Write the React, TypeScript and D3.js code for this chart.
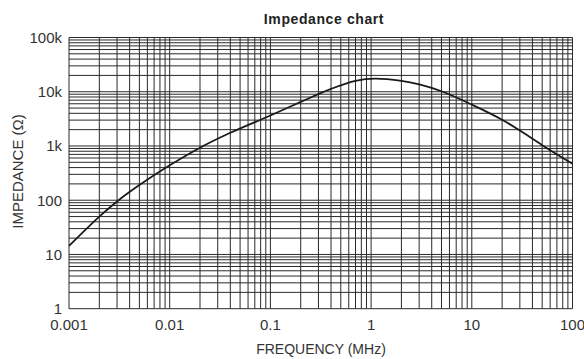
import React from 'react';
import * as d3 from 'd3';

// frequency in MHz, impedance in ohms
const freqs = [0.001, 0.002, 0.003, 0.005, 0.01, 0.02, 0.04, 0.1, 0.2, 0.4, 0.7, 1.1, 2, 3, 5, 10, 20, 30, 50, 100];
const impedance = [14.4, 50, 95, 190, 440, 930, 1750, 3650, 6500, 11300, 15900, 17400, 15800, 13600, 10200, 5800, 3050, 1920, 1035, 470];

const xTicks = [0.001, 0.01, 0.1, 1, 10, 100];
const xTickLabels = ['0.001', '0.01', '0.1', '1', '10', '100'];
const yTicks = [1, 10, 100, 1000, 10000, 100000];
const yTickLabels = ['1', '10', '100', '1k', '10k', '100k'];

const W = 584;
const H = 359;
const margin = {top: 37.5, right: 11.5, bottom: 50.3, left: 69};
const font = '"Liberation Sans", Arial, Helvetica, sans-serif';

// minor grid values 1..9 for every decade between lo and hi
function gridValues(lo: number, hi: number): number[] {
  const out: number[] = [];
  for (let d = lo; d < hi; d *= 10) {
    for (let k = 1; k < 10; k++) out.push(d * k);
  }
  out.push(hi);
  return out;
}

export default function App() {
  const x = d3.scaleLog().domain([0.001, 100]).range([margin.left, W - margin.right]);
  const y = d3.scaleLog().domain([1, 100000]).range([H - margin.bottom, margin.top]);

  const line = d3
    .line<number>()
    .x((_, i) => x(freqs[i]))
    .y(d => y(d))
    .curve(d3.curveCatmullRom.alpha(0.5));

  const x0 = x.range()[0];
  const x1 = x.range()[1];
  const y0 = y.range()[0];
  const y1 = y.range()[1];

  return (
    <svg width={W} height={H} style={{position: 'absolute', left: 0, top: 0, background: '#fff'}}>
      <text x={324} y={24} textAnchor="middle" fontFamily={font} fontWeight="bold" fontSize={14} letterSpacing={0.6} fill="#222">
        Impedance chart
      </text>

      <g stroke="#2a2a2a" strokeWidth={1}>
        {gridValues(0.001, 100).map((v, i) => (
          <line key={'x' + i} x1={x(v)} x2={x(v)} y1={y1} y2={y0} />
        ))}
        {gridValues(1, 100000).map((v, i) => (
          <line key={'y' + i} x1={x0} x2={x1} y1={y(v)} y2={y(v)} />
        ))}
      </g>

      <path d={line(impedance) || ''} fill="none" stroke="#1a1a1a" strokeWidth={1.8} />

      <g fontFamily={font} fontSize={15} fill="#333">
        {yTicks.map((v, i) => (
          <text key={'yt' + i} x={x0 - 7} y={y(v)} dy="0.36em" textAnchor="end">
            {yTickLabels[i]}
          </text>
        ))}
        {xTicks.map((v, i) => (
          <text key={'xt' + i} x={x(v)} y={330} textAnchor="middle">
            {xTickLabels[i]}
          </text>
        ))}
      </g>

      <text x={321} y={354} textAnchor="middle" fontFamily={font} fontSize={14} fill="#333">
        FREQUENCY (MHz)
      </text>
      <text
        transform="translate(23, 171.5) rotate(-90)"
        textAnchor="middle"
        fontFamily={font}
        fontSize={15}
        fill="#333"
      >
        IMPEDANCE (Ω)
      </text>
    </svg>
  );
}
